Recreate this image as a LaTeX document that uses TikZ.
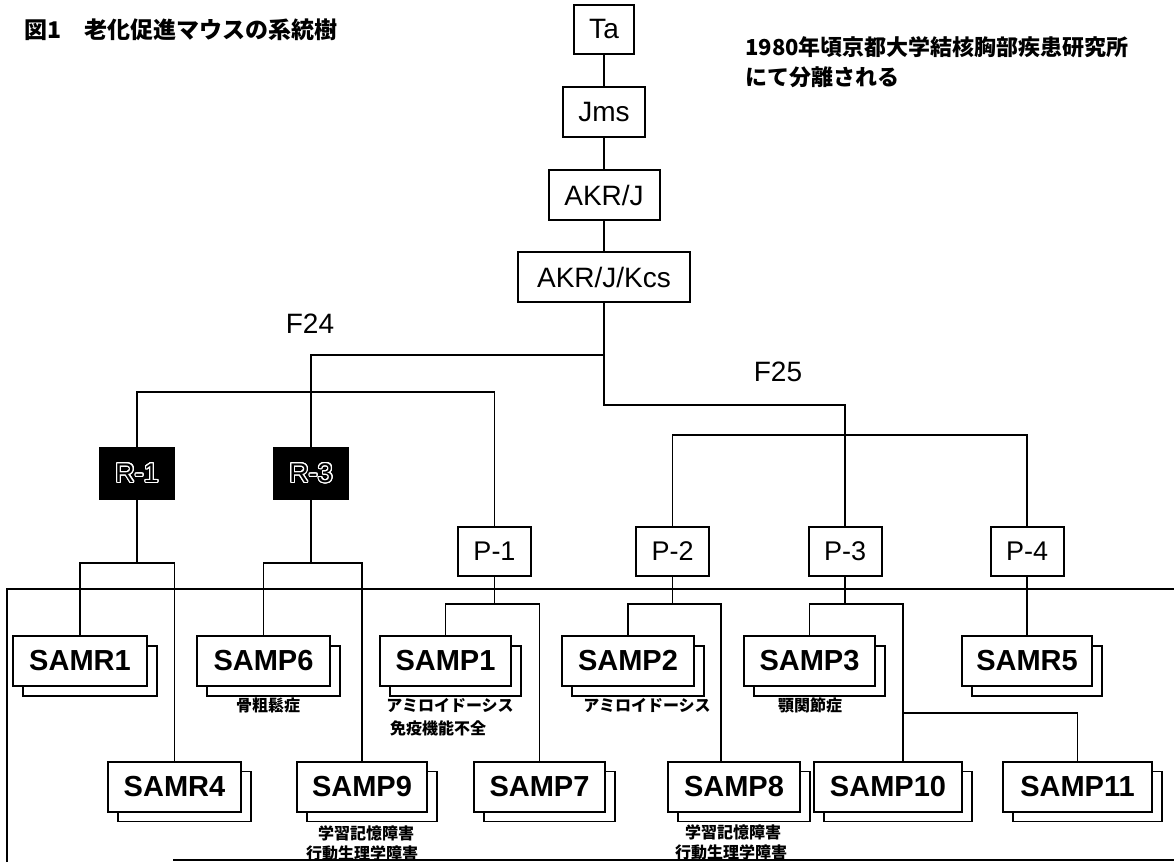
\documentclass[tikz,border=0pt]{standalone}
\usepackage{fontspec}
\usepackage[copies]{contour}
\setmainfont{Liberation Sans}
\newfontfamily\jp{Noto Sans CJK JP}
\usetikzlibrary{shadows}
\newcommand{\fsz}[1]{\fontsize{#1}{#1}\selectfont}
\contourlength{1.1pt}
\contournumber{24}
\begin{document}
\begin{tikzpicture}[x=1pt,y=-1pt,
  conn/.style={line width=1.8pt},
  topbox/.style={draw, line width=2pt, fill=white, inner sep=0pt, minimum height=50pt, font=\fsz{28}},
  rbox/.style={draw, line width=1.6pt, fill=black, text=black, minimum width=75pt, minimum height=51pt, inner sep=0pt, font=\fsz{27}},
  pbox/.style={draw, line width=2pt, fill=white, minimum width=73pt, minimum height=49pt, inner sep=0pt, font=\fsz{27}},
  sam/.style={draw, line width=2pt, fill=white, minimum height=50pt, inner sep=0pt, font=\bfseries\fsz{29},
    copy shadow={shadow xshift=10pt, shadow yshift=-10pt, draw=black, fill=white, line width=1.8pt}},
  lbl/.style={inner sep=0pt, font=\jp\bfseries\fsz{16}},
  gen/.style={inner sep=0pt, font=\fsz{28}},
  jtext/.style={inner sep=0pt, anchor=west, font=\jp\bfseries\fsz{22}}
]
\useasboundingbox (0,0) rectangle (1174,862);

% title and note
\node[jtext, font=\jp\bfseries\fsz{23}] (title) at (24,30) {図1　老化促進マウスの系統樹};
\node[jtext] (note1) at (745,47) {1980年頃京都大学結核胸部疾患研究所};
\node[jtext] (note2) at (745,77) {にて分離される};

% top chain
\node[topbox, minimum width=60pt, minimum height=49pt] (Ta) at (604,29.5) {Ta};
\node[topbox, minimum width=82pt] (Jms) at (604,112) {Jms};
\node[topbox, minimum width=111pt] (AKR) at (604,195) {AKR/J};
\node[topbox, minimum width=172pt] (Kcs) at (604,277) {AKR/J/Kcs};

\draw[conn] (Ta) -- (Jms);
\draw[conn] (Jms) -- (AKR);
\draw[conn] (AKR) -- (Kcs);

% generation labels
\node[gen] (F24) at (310,324) {F24};
\node[gen] (F25) at (778,372) {F25};

% R and P boxes
\node[rbox] (R1) at (137,473.5) {\contour{white}{R-1}};
\node[rbox] (R3) at (311,473.5) {\contour{white}{R-3}};
\node[pbox] (P1) at (494.5,551.5) {P-1};
\node[pbox] (P2) at (672.5,551.5) {P-2};
\node[pbox] (P3) at (845,551.5) {P-3};
\node[pbox] (P4) at (1027,551.5) {P-4};

% branching
\coordinate (j24) at (604,355);
\coordinate (j25) at (604,405);
\coordinate (h1) at (0,392);
\coordinate (h2) at (0,435);
\draw[conn] (Kcs.south) -- (j25) -| (P3.north);
\draw[conn] (j24) -| (R3.north);
\draw[conn] (R1.north) |- (h1 -| P1.north) -- (P1.north);
\draw[conn] (P2.north) |- (h2 -| P4.north) -- (P4.north);

% frame
\draw[line width=1.8pt] (7,862) -- (7,589) -- (1174,589);
\draw[line width=1.8pt] (173,860) -- (1174,860);

% strain boxes
\node[sam, minimum width=134pt] (SAMR1) at (80,661) {SAMR1};
\node[sam, minimum width=133pt] (SAMP6) at (263.5,661) {SAMP6};
\node[sam, minimum width=131pt] (SAMP1) at (445.5,661) {SAMP1};
\node[sam, minimum width=132pt] (SAMP2) at (628,661) {SAMP2};
\node[sam, minimum width=131pt] (SAMP3) at (809.5,661) {SAMP3};
\node[sam, minimum width=130pt] (SAMR5) at (1027,661) {SAMR5};

\node[sam, minimum width=133pt] (SAMR4) at (174.5,786.5) {SAMR4};
\node[sam, minimum width=130pt] (SAMP9) at (362,786.5) {SAMP9};
\node[sam, minimum width=131pt] (SAMP7) at (539.5,786.5) {SAMP7};
\node[sam, minimum width=132pt] (SAMP8) at (734,786.5) {SAMP8};
\node[sam, minimum width=148pt] (SAMP10) at (888,786.5) {SAMP10};
\node[sam, minimum width=149pt] (SAMP11) at (1077.5,786.5) {SAMP11};

% brackets
\coordinate (b1) at (0,563);
\coordinate (b2) at (0,604);
\coordinate (l8) at (721,604);
\coordinate (l10) at (903,604);
\coordinate (h11) at (0,713);
\draw[conn] (R1.south) -- (R1.south |- b1);
\draw[conn] (SAMR1.north) |- (b1 -| SAMR4.north) -- (SAMR4.north);
\draw[conn] (R3.south) -- (R3.south |- b1);
\draw[conn] (SAMP6.north) |- (b1 -| SAMP9.north) -- (SAMP9.north);
\draw[conn] (P1.south) -- (P1.south |- b2);
\draw[conn] (SAMP1.north) |- (b2 -| SAMP7.north) -- (SAMP7.north);
\draw[conn] (P2.south) -- (P2.south |- b2);
\draw[conn] (SAMP2.north) |- (l8) -- (l8 |- SAMP8.north);
\draw[conn] (P3.south) -- (P3.south |- b2);
\draw[conn] (SAMP3.north) |- (l10) -- (l10 |- SAMP10.north);
\draw[conn] (l10 |- h11) -| (SAMP11.north);
\draw[conn] (P4.south) -- (SAMR5.north);

% phenotype labels
\node[lbl] (t6) at (268,705) {骨粗鬆症};
\node[lbl] (t1a) at (450,705) {アミロイドーシス};
\node[lbl] (t1b) at (438,728) {免疫機能不全};
\node[lbl] (t2) at (647,705) {アミロイドーシス};
\node[lbl] (t3) at (810,705) {顎関節症};
\node[lbl] (t9a) at (366,833) {学習記憶障害};
\node[lbl] (t9b) at (362,853) {行動生理学障害};
\node[lbl] (t8a) at (733,832) {学習記憶障害};
\node[lbl] (t8b) at (731,852) {行動生理学障害};
\end{tikzpicture}
\end{document}
